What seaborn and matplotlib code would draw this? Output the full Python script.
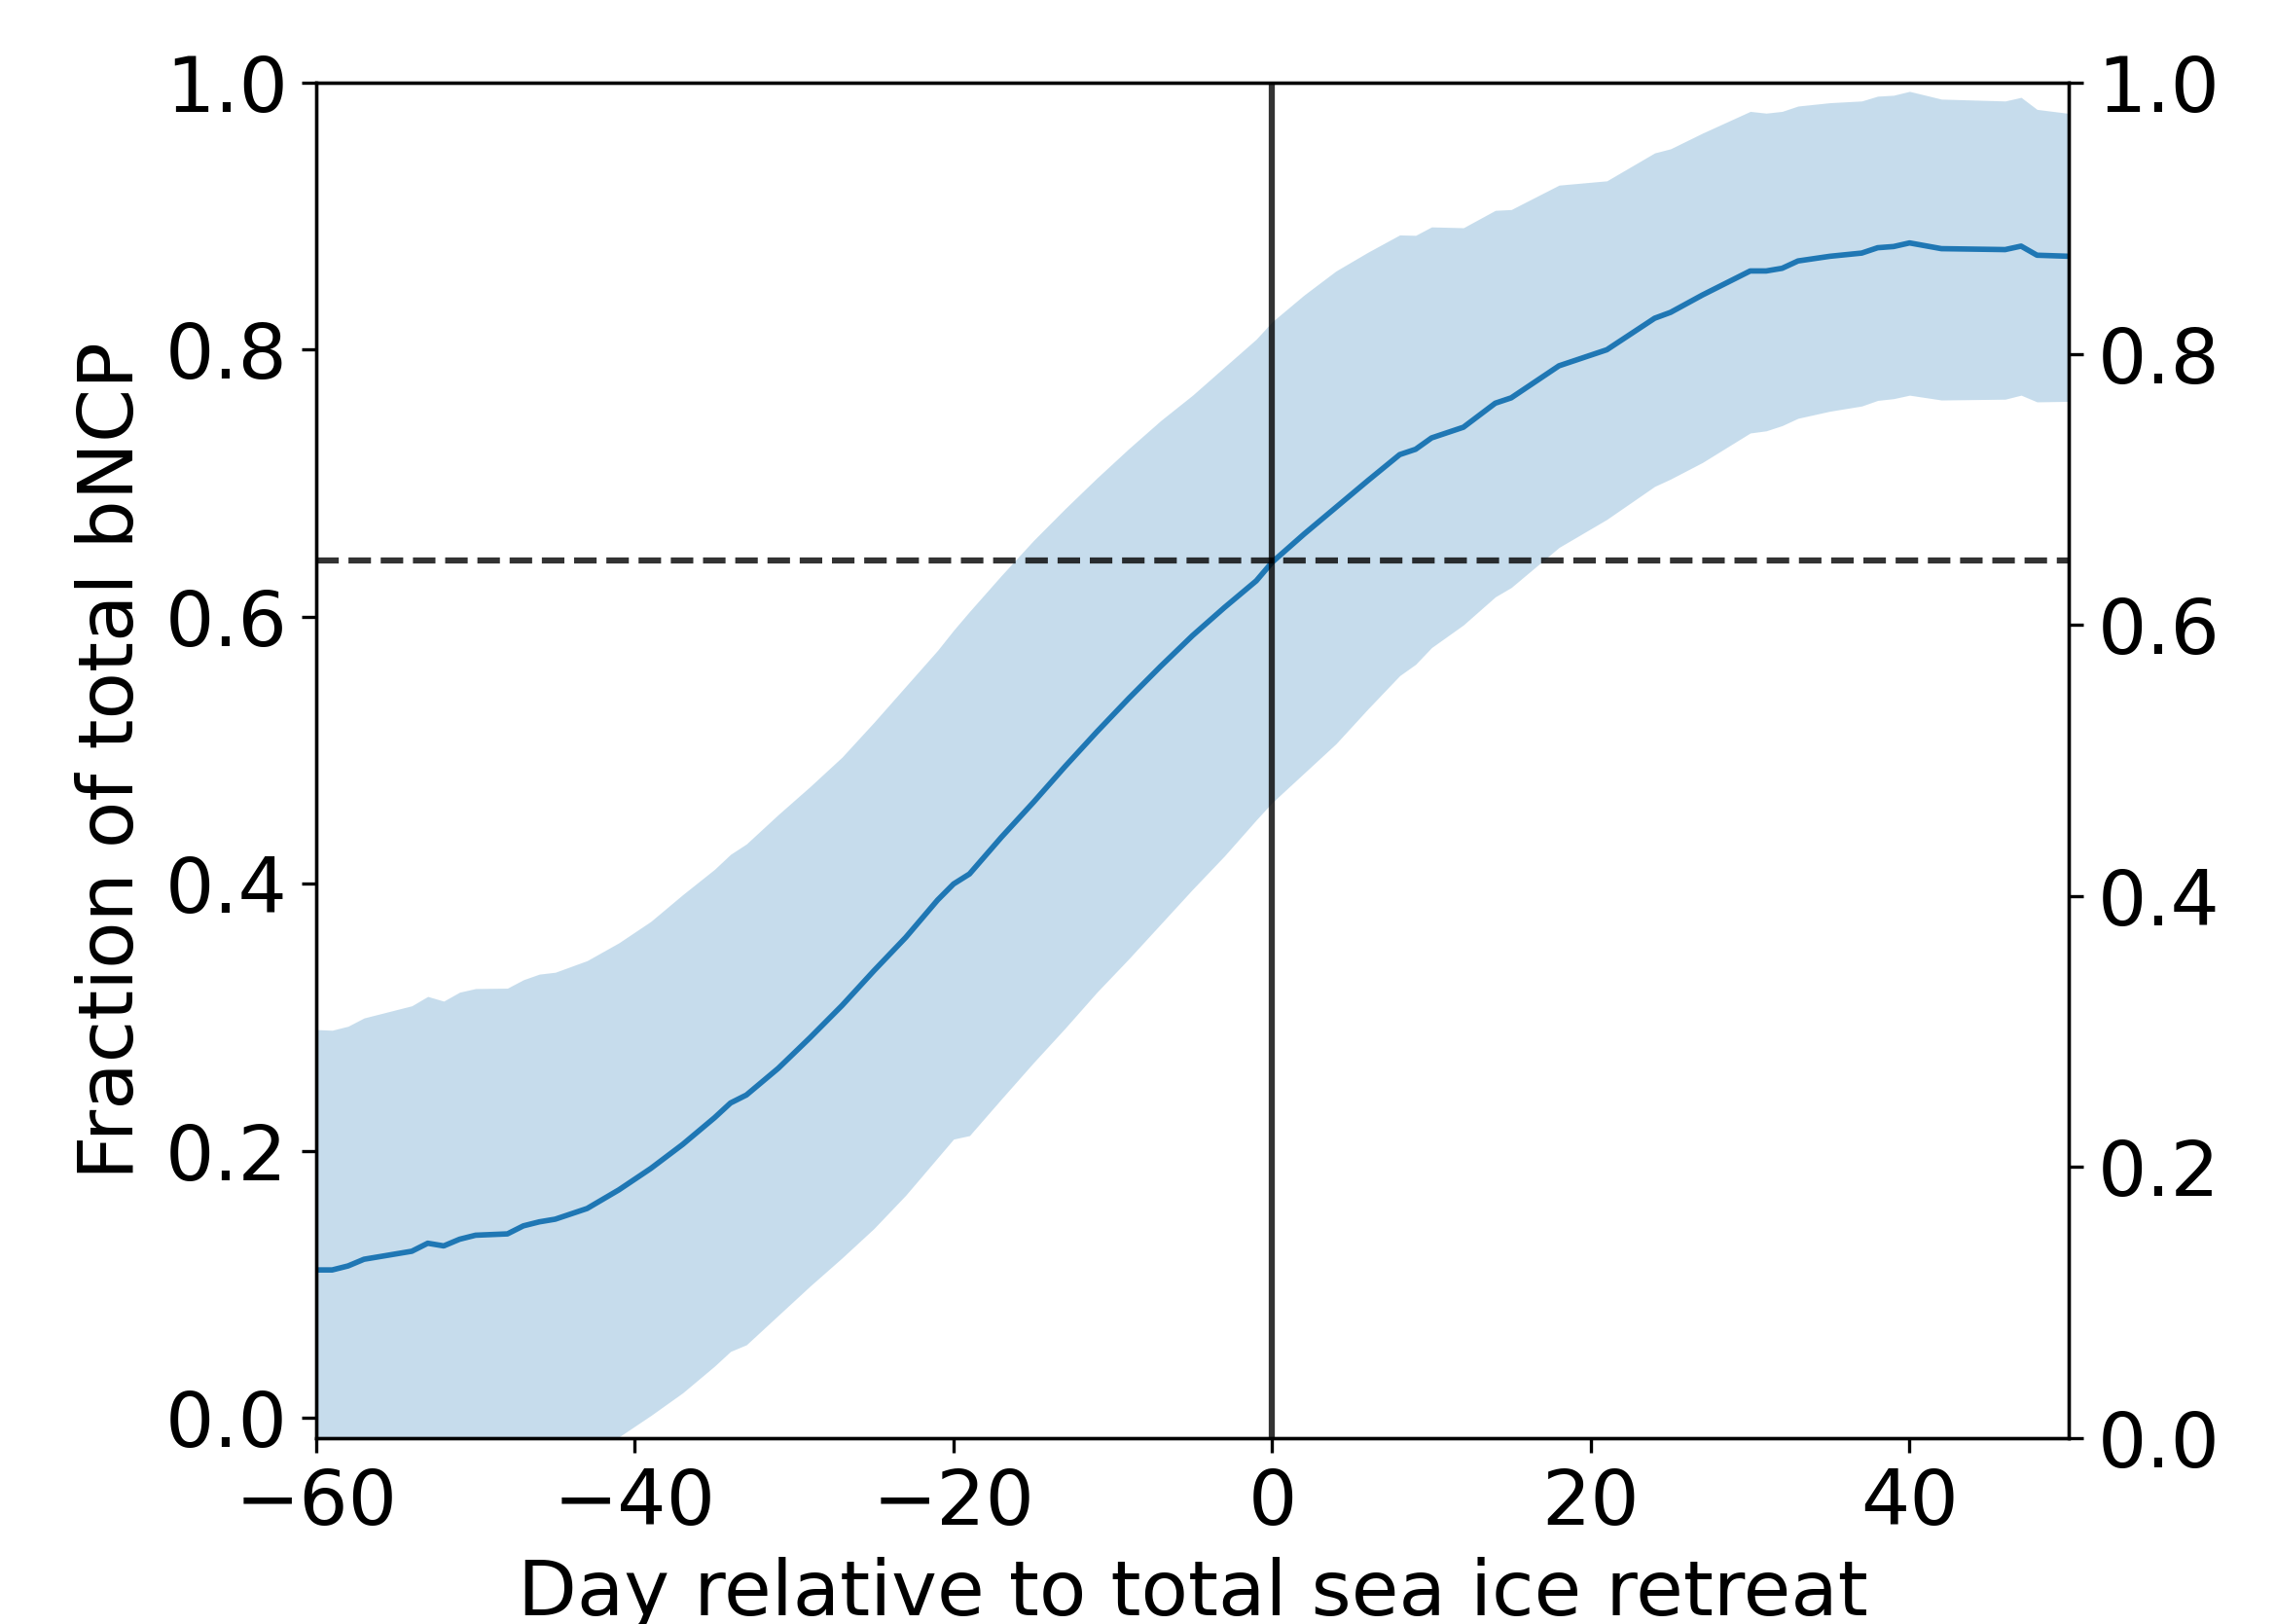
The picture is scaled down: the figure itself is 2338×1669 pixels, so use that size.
import matplotlib
matplotlib.use("Agg")
import matplotlib.pyplot as plt
import seaborn as sns
import pandas as pd

# day relative to total sea ice retreat
days = [-60, -59, -58, -57, -54, -53, -52, -51, -50, -48, -47, -46, -45, -43,
        -41, -39, -37, -35, -34, -33, -31, -29, -27, -25, -23, -21, -20, -19,
        -17, -15, -13, -11, -9, -7, -5, -3, -1, 0, 2, 4, 6, 8, 9, 10, 12, 14,
        15, 18, 21, 24, 25, 27, 30, 31, 32, 33, 35, 37, 38, 39, 40, 42, 46, 47,
        48, 50]

# mean fraction of total bNCP
mean_frac = [0.111, 0.111, 0.114, 0.119, 0.125, 0.131, 0.129, 0.134, 0.137, 0.138,
             0.144, 0.147, 0.149, 0.157, 0.171, 0.187, 0.205, 0.225, 0.236, 0.242,
             0.262, 0.285, 0.309, 0.335, 0.360, 0.388, 0.400, 0.4075, 0.435, 0.461,
             0.488, 0.514, 0.539, 0.563, 0.586, 0.607, 0.627, 0.641, 0.662, 0.682,
             0.702, 0.7215, 0.7255, 0.734, 0.742, 0.760, 0.764, 0.788, 0.800, 0.8236,
             0.828, 0.841, 0.859, 0.859, 0.861, 0.8665, 0.870, 0.8724, 0.8764, 0.8773,
             0.880, 0.8757, 0.875, 0.8776, 0.8708, 0.870]

# upper edge of the shaded band
upper = [0.291, 0.2905, 0.2935, 0.2997, 0.3088, 0.3158, 0.3123, 0.319, 0.3217, 0.322,
         0.3283, 0.3325, 0.3339, 0.3426, 0.356, 0.372, 0.392, 0.411, 0.4222, 0.430,
         0.452, 0.473, 0.495, 0.521, 0.548, 0.575, 0.590, 0.604, 0.631, 0.657,
         0.681, 0.704, 0.726, 0.747, 0.766, 0.787, 0.808, 0.821, 0.841, 0.859,
         0.873, 0.886, 0.8857, 0.892, 0.8914, 0.9044, 0.905, 0.9233, 0.9265, 0.9474,
         0.9505, 0.9622, 0.9785, 0.9772, 0.9785, 0.9825, 0.985, 0.9863, 0.9899, 0.9906,
         0.9935, 0.9877, 0.9863, 0.989, 0.980, 0.977]

# lower edge of the shaded band (below the axis before day -41)
lower = [-0.069, -0.068, -0.066, -0.062, -0.059, -0.054, -0.054, -0.051, -0.048, -0.046,
         -0.040, -0.039, -0.036, -0.029, -0.014, 0.002, 0.019, 0.039, 0.050, 0.055,
         0.077, 0.099, 0.120, 0.142, 0.167, 0.195, 0.209, 0.2116, 0.239, 0.266,
         0.292, 0.319, 0.344, 0.370, 0.396, 0.421, 0.448, 0.461, 0.483, 0.505,
         0.531, 0.556, 0.5645, 0.577, 0.594, 0.615, 0.622, 0.652, 0.673, 0.6977,
         0.7032, 0.7156, 0.7377, 0.7393, 0.7432, 0.7487, 0.754, 0.7579, 0.7621, 0.7634,
         0.766, 0.7624, 0.763, 0.766, 0.761, 0.7614]

ref_fraction = 0.642

df = pd.DataFrame({"day": days, "frac": mean_frac, "lo": lower, "hi": upper})

plt.rcParams["font.size"] = 19

fig = plt.figure(figsize=(2338 / 300, 1669 / 300), dpi=300)
ax = fig.add_axes([0.139, 0.1144, 0.7704, 0.8347])

ax.fill_between(df["day"], df["lo"], df["hi"], color="#1f77b4", alpha=0.25, linewidth=0)
sns.lineplot(data=df, x="day", y="frac", ax=ax, color="#1f77b4", linewidth=1.35)
ax.axvline(0, color="k", alpha=0.8, linewidth=1.5)
ax.axhline(ref_fraction, color="k", alpha=0.8, linewidth=1.5, linestyle="--")

ax.set_xlim(-60, 50)
ax.set_ylim(-0.015, 1.0)
ax.set_yticks([0.0, 0.2, 0.4, 0.6, 0.8, 1.0])
ax.set_xlabel("Day relative to total sea ice retreat")
ax.set_ylabel("Fraction of total bNCP")

ax2 = ax.twinx()
ax2.set_ylim(0, 1.0)
ax2.set_yticks([0.0, 0.2, 0.4, 0.6, 0.8, 1.0])

fig.savefig("out.png", dpi=300)
